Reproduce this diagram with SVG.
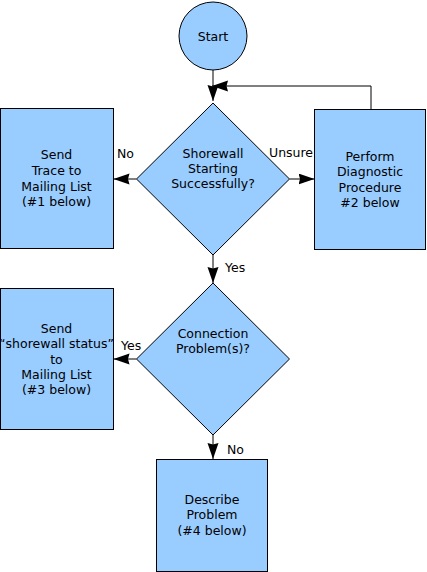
<svg xmlns="http://www.w3.org/2000/svg" width="427" height="572" viewBox="0 0 427 572">
<defs>
<style>
.n{fill:#99ccff;stroke:#000;stroke-width:1}
.c{fill:none;stroke:#000;stroke-width:1}
text{font-family:"DejaVu Sans",Verdana,sans-serif;font-size:12.5px;fill:#000}
.m{text-anchor:middle}
</style>
<marker id="ah" markerUnits="userSpaceOnUse" markerWidth="18" markerHeight="12" refX="16" refY="5.5" orient="auto">
<path d="M0,0 L16,5.5 L0,11 L1.5,5.5 z" fill="#000"/>
</marker>
</defs>
<rect width="427" height="572" fill="#fff"/>
<g id="connectors">
<path class="c" d="M213,70 V101" marker-end="url(#ah)"/>
<path class="c" d="M371,109 V86 H212" marker-end="url(#ah)"/>
<path class="c" d="M136.5,179 H113.5" marker-end="url(#ah)"/>
<path class="c" d="M289.5,179 H314.5" marker-end="url(#ah)"/>
<path class="c" d="M213,255 V283" marker-end="url(#ah)"/>
<path class="c" d="M136.5,359 H113.5" marker-end="url(#ah)"/>
<path class="c" d="M213,435 V459" marker-end="url(#ah)"/>
<text x="117" y="158">No</text>
<text x="269" y="157">Unsure</text>
<text x="225" y="272">Yes</text>
<text x="121" y="350">Yes</text>
<text x="227" y="454">No</text>
</g>
<g id="start">
<circle class="n" cx="213" cy="36" r="34"/>
<text class="m" x="213" y="41">Start</text>
</g>
<g id="shorewall-starting">
<path class="n" d="M213,103 L289.5,179 L213,255 L136.5,179 Z"/>
<text class="m" x="213" y="158">Shorewall</text>
<text class="m" x="213" y="173">Starting</text>
<text class="m" x="213" y="188">Successfully?</text>
</g>
<g id="send-trace">
<rect class="n" x="0.5" y="108.5" width="113" height="140"/>
<text class="m" x="56.5" y="159">Send</text>
<text class="m" x="56.5" y="175">Trace to</text>
<text class="m" x="56.5" y="191">Mailing List</text>
<text class="m" x="56.5" y="206">(#1 below)</text>
</g>
<g id="perform-diagnostic">
<rect class="n" x="314.5" y="109.5" width="111" height="140"/>
<text class="m" x="370" y="161">Perform</text>
<text class="m" x="370" y="176">Diagnostic</text>
<text class="m" x="370" y="192">Procedure</text>
<text class="m" x="370" y="207">#2 below</text>
</g>
<g id="connection-problem">
<path class="n" d="M213,283 L289.5,359 L213,435 L136.5,359 Z"/>
<text class="m" x="213" y="338">Connection</text>
<text class="m" x="213" y="353">Problem(s)?</text>
</g>
<g id="send-status">
<rect class="n" x="0.5" y="288.5" width="113" height="141"/>
<text class="m" x="56.5" y="333">Send</text>
<text class="m" x="56.5" y="348">“shorewall status”</text>
<text class="m" x="56.5" y="364">to</text>
<text class="m" x="56.5" y="379">Mailing List</text>
<text class="m" x="56.5" y="394">(#3 below)</text>
</g>
<g id="describe-problem">
<rect class="n" x="156.5" y="459.5" width="111" height="112"/>
<text class="m" x="212" y="504">Describe</text>
<text class="m" x="212" y="519">Problem</text>
<text class="m" x="212" y="535">(#4 below)</text>
</g>
</svg>
